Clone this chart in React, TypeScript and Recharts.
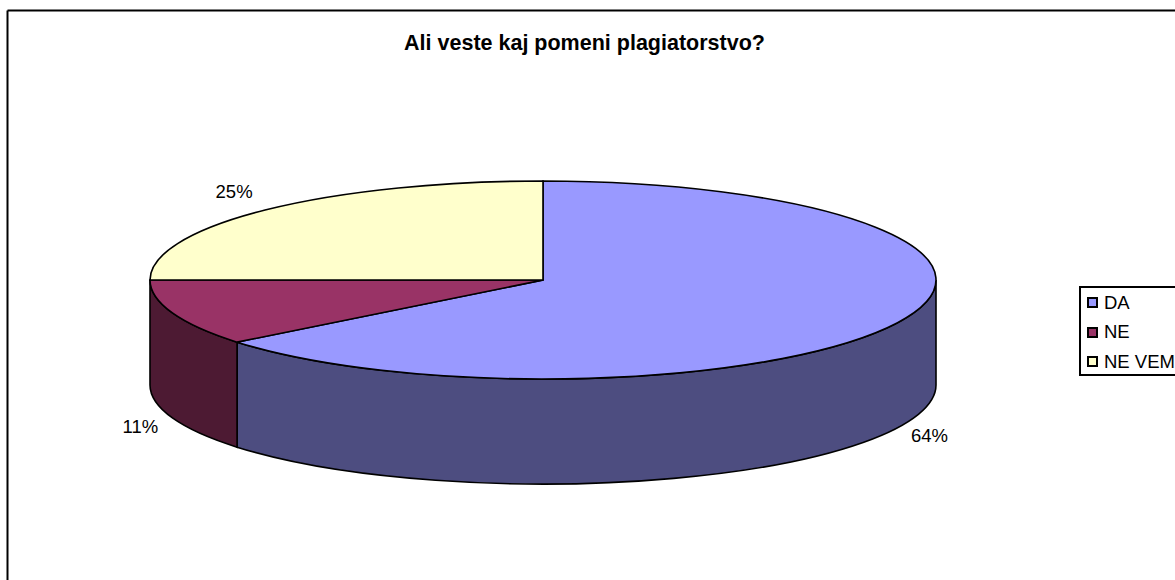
import { PieChart, Pie, Legend } from 'recharts';

const categories = ['DA', 'NE', 'NE VEM'];
const shares = [64.2, 10.8, 25];
const topColors = ['#9999ff', '#993366', '#ffffcc'];
const wallColors = ['#4d4d80', '#4d1a33', '#808066'];

const W = 1175;
const H = 580;
const CX = 543;
const CY = 280;
const RX = 393;
const RY = 99;
const DEPTH = 105;
const FONT = '"Liberation Sans", Arial, sans-serif';

// nudges from the ellipse for each percent label, same order as categories
const labelNudge = [
  [32, 8],
  [-32, 9],
  [-31, -18],
];

const data = categories.map((name, i) => ({
  name,
  value: shares[i],
  fill: topColors[i],
  wall: wallColors[i],
}));

const px = (a: number) => CX + RX * Math.cos((a * Math.PI) / 180);
const py = (a: number) => CY - RY * Math.sin((a * Math.PI) / 180);

// flat pie slice plus the visible part of its side wall
const Slice3D = (props: any) => {
  const { startAngle, endAngle, fill, payload } = props;
  const large = Math.abs(startAngle - endAngle) > 180 ? 1 : 0;
  const top = `M${CX},${CY} L${px(startAngle)},${py(startAngle)} A${RX},${RY} 0 ${large} 1 ${px(endAngle)},${py(endAngle)} Z`;

  // the front half of the rim runs between 0 and -180 degrees
  const norm = (a: number) => (a > 0 ? a - 360 : a);
  let from = startAngle > 0 ? 0 : startAngle;
  let to = norm(endAngle);
  if (startAngle > 0 && endAngle > 0) to = 0;
  from = Math.max(Math.min(from, 0), -180);
  to = Math.max(Math.min(to, 0), -180);
  const wall =
    from > to
      ? `M${px(from)},${py(from)} A${RX},${RY} 0 0 1 ${px(to)},${py(to)} L${px(to)},${py(to) + DEPTH} A${RX},${RY} 0 0 0 ${px(from)},${py(from) + DEPTH} Z`
      : '';

  return (
    <g>
      {wall && <path d={wall} fill={payload.wall} stroke="#000" strokeWidth={1.6} />}
      <path d={top} fill={fill} stroke="#000" strokeWidth={1.6} />
    </g>
  );
};

const renderLabel = (props: any) => {
  const { midAngle, index, value } = props;
  const front = Math.sin((midAngle * Math.PI) / 180) < 0;
  const x = px(midAngle) + labelNudge[index][0];
  const y = py(midAngle) + (front ? DEPTH : 0) + labelNudge[index][1];
  return (
    <text x={x} y={y} textAnchor="middle" dominantBaseline="central" fontFamily={FONT} fontSize={18.5} fill="#000">
      {Math.round(value)}%
    </text>
  );
};

const LegendBox = () => (
  <div
    style={{
      width: 130,
      height: 90,
      boxSizing: 'border-box',
      borderLeft: '2px solid #000',
      borderTop: '2px solid #000',
      borderBottom: '2px solid #000',
      background: '#fff',
      paddingTop: 0,
      paddingLeft: 6,
      fontFamily: FONT,
      fontSize: 18.5,
      color: '#000',
      whiteSpace: 'nowrap',
    }}
  >
    {data.map((d) => (
      <div key={d.name} style={{ display: 'flex', alignItems: 'center', height: 29.5 }}>
        <span
          style={{
            display: 'inline-block',
            width: 11,
            height: 11,
            boxSizing: 'border-box',
            border: '2px solid #000',
            background: d.fill,
            marginRight: 6,
          }}
        />
        {d.name}
      </div>
    ))}
  </div>
);

export default function App() {
  return (
    <div style={{ position: 'absolute', left: 0, top: 0, width: W, height: H, overflow: 'hidden', background: '#fff' }}>
      <PieChart width={W} height={H} margin={{ top: 0, right: 0, bottom: 0, left: 0 }}>
        <line x1={7.5} y1={10.5} x2={W} y2={10.5} stroke="#000" strokeWidth={2} />
        <line x1={7.5} y1={10.5} x2={7.5} y2={H} stroke="#000" strokeWidth={2} />
        <text x={584.5} y={50} textAnchor="middle" fontFamily={FONT} fontSize={21.5} fontWeight={700} fill="#000">
          Ali veste kaj pomeni plagiatorstvo?
        </text>
        <Pie
          data={data}
          dataKey="value"
          nameKey="name"
          cx={CX}
          cy={CY}
          outerRadius={RX}
          startAngle={90}
          endAngle={-270}
          paddingAngle={0}
          shape={Slice3D}
          label={renderLabel}
          labelLine={false}
          isAnimationActive={false}
        />
        <Legend content={<LegendBox />} layout="vertical" wrapperStyle={{ left: 1079, top: 286, width: 130 }} />
      </PieChart>
    </div>
  );
}
